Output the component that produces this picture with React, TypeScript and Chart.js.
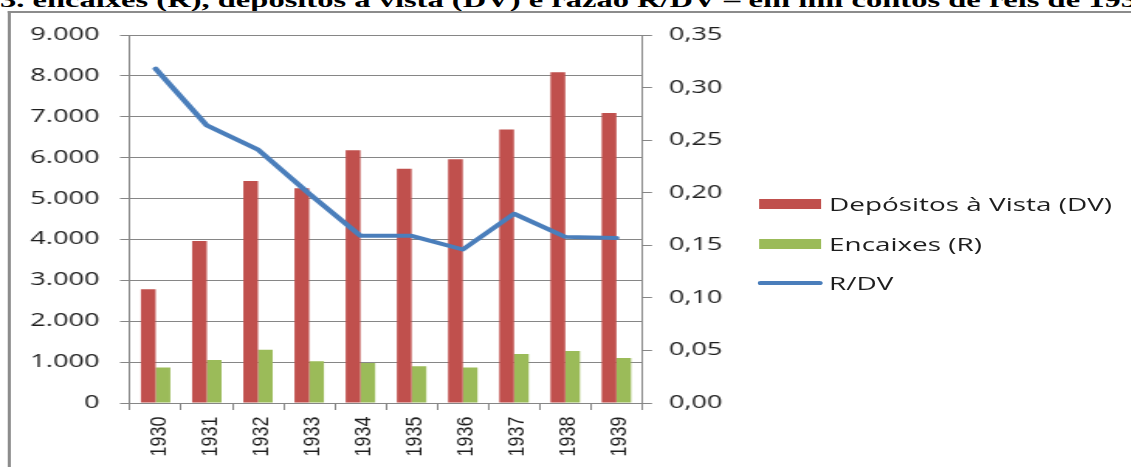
import { useEffect, useRef } from "react"
import { Chart, registerables } from "chart.js"

Chart.register(...registerables)

// the reference is a stretched screenshot: draw at 730px wide and scale it out to 1131px
const STRETCH = 1131 / 730

const years = ["1930", "1931", "1932", "1933", "1934", "1935", "1936", "1937", "1938", "1939"]
const depositos = [2780, 3960, 5430, 5250, 6180, 5730, 5960, 6690, 8090, 7090]
const encaixes = [870, 1050, 1300, 1020, 980, 900, 870, 1200, 1270, 1100]
const razao = [0.318, 0.264, 0.241, 0.199, 0.159, 0.159, 0.146, 0.18, 0.158, 0.157]

const leftTicks = [0, 1000, 2000, 3000, 4000, 5000, 6000, 7000, 8000, 9000]
const rightTicks = [0, 0.05, 0.1, 0.15, 0.2, 0.25, 0.3, 0.35]

const RED = "#C0504D"
const GREEN = "#9BBB59"
const BLUE = "#4A7EBB"
const GRID = "#868686"
const TEXT = "#1e1e1e"

const tickFont = { family: "'Open Sans', sans-serif", size: 17.5 }

const fmtThousands = (v: number) => String(v).replace(/\B(?=(\d{3})+(?!\d))/g, ".")

// x labels are not stretched in the reference, so undo the stretch when drawing them
const xLabelPlugin = {
  id: "xLabels",
  afterDraw(chart: any) {
    const { ctx, scales } = chart
    const x = scales.x
    ctx.save()
    ctx.fillStyle = TEXT
    ctx.font = "23px 'Liberation Sans', Arial, sans-serif"
    ctx.textAlign = "right"
    ctx.textBaseline = "alphabetic"
    years.forEach((year, i) => {
      ctx.save()
      ctx.translate(x.getPixelForTick(i), x.top + 13.5)
      ctx.scale(1 / STRETCH, 1)
      ctx.rotate(-Math.PI / 2)
      ctx.scale(0.78, 1)
      ctx.fillText(year, 0, 9.75)
      ctx.restore()
    })
    ctx.restore()
  },
}

const legendItems = [
  { label: "Depósitos à Vista (DV)", color: RED, line: false },
  { label: "Encaixes (R)", color: GREEN, line: false },
  { label: "R/DV", color: BLUE, line: true },
]

export default function App() {
  const chartRef = useRef<HTMLCanvasElement>(null)
  const chartInstance = useRef<Chart | null>(null)

  useEffect(() => {
    if (!chartRef.current) return
    if (chartInstance.current) chartInstance.current.destroy()

    chartInstance.current = new Chart(chartRef.current, {
      type: "bar",
      data: {
        labels: years,
        datasets: [
          {
            type: "line",
            label: "R/DV",
            data: razao,
            yAxisID: "y1",
            borderColor: BLUE,
            backgroundColor: BLUE,
            borderWidth: 4,
            pointRadius: 0,
            tension: 0,
            borderCapStyle: "round",
            borderJoinStyle: "round",
            order: 0,
          },
          {
            label: "Depósitos à Vista (DV)",
            data: depositos,
            backgroundColor: RED,
            yAxisID: "y",
            categoryPercentage: 0.575,
            barPercentage: 1,
            order: 1,
          },
          {
            label: "Encaixes (R)",
            data: encaixes,
            backgroundColor: GREEN,
            yAxisID: "y",
            categoryPercentage: 0.575,
            barPercentage: 1,
            order: 1,
          },
        ],
      } as any,
      options: {
        responsive: false,
        animation: false,
        layout: { padding: { left: 0, right: 255.63, top: 35, bottom: 0 } },
        plugins: {
          legend: { display: false },
          tooltip: { enabled: false },
        },
        scales: {
          x: {
            offset: true,
            grid: {
              offset: true,
              drawOnChartArea: false,
              drawTicks: true,
              tickLength: 7,
              color: GRID,
            },
            border: { display: true, color: GRID },
            ticks: { display: false },
            afterFit: (s: any) => {
              s.height = 64
            },
          },
          y: {
            position: "left",
            min: 0,
            max: 9000,
            afterBuildTicks: (s: any) => {
              s.ticks = leftTicks.map((v) => ({ value: v }))
            },
            ticks: {
              callback: (v: any) => fmtThousands(Number(v)),
              padding: 13.3,
              font: tickFont,
              color: TEXT,
            },
            grid: { color: GRID, tickLength: 6.45 },
            border: { color: GRID },
            afterFit: (s: any) => {
              s.width = 83.91
            },
          },
          y1: {
            position: "right",
            min: 0,
            max: 0.35,
            afterBuildTicks: (s: any) => {
              s.ticks = rightTicks.map((v) => ({ value: v }))
            },
            ticks: {
              callback: (v: any) => Number(v).toFixed(2).replace(".", ","),
              padding: 10.95,
              font: tickFont,
              color: TEXT,
            },
            grid: { drawOnChartArea: false, color: GRID, tickLength: 6.45 },
            border: { color: GRID },
            afterFit: (s: any) => {
              s.width = 60
            },
          },
        },
      },
      plugins: [xLabelPlugin],
    })

    return () => {
      if (chartInstance.current) {
        chartInstance.current.destroy()
        chartInstance.current = null
      }
    }
  }, [])

  return (
    <div
      style={{
        position: "absolute",
        left: 0,
        top: 0,
        width: 730,
        height: 467,
        overflow: "hidden",
        background: "#fff",
        transform: `scaleX(${STRETCH})`,
        transformOrigin: "0 0",
      }}
    >
      <div
        style={{
          position: "absolute",
          left: 0,
          top: -9.6,
          whiteSpace: "nowrap",
          fontFamily: "'Liberation Serif', 'Times New Roman', serif",
          fontWeight: "bold",
          fontSize: 21,
          lineHeight: "21px",
          color: "#000",
        }}
      >
        3. encaixes (R), depósitos à vista (DV) e razão R/DV – em mil contos de réis de 1930-1939
      </div>
      <div
        style={{
          position: "absolute",
          left: 5.2,
          top: 11,
          width: 800,
          height: 500,
          borderTop: "2px solid #8c8c8c",
          borderLeft: "2px solid #8c8c8c",
        }}
      />
      <canvas
        ref={chartRef}
        width={730}
        height={467}
        style={{ position: "absolute", left: 0, top: 0, width: 730, height: 467 }}
      ></canvas>
      <div style={{ position: "absolute", left: 489.3, top: 184.25 }}>
        {legendItems.map((item) => (
          <div key={item.label} style={{ display: "flex", alignItems: "center", height: 39.5 }}>
            <div style={{ width: 45.8, display: "flex", alignItems: "center" }}>
              {item.line ? (
                <div style={{ width: 41.3, height: 4, borderRadius: 2, background: item.color }} />
              ) : (
                <div style={{ marginLeft: 1.2, width: 39.4, height: 10, background: item.color }} />
              )}
            </div>
            <span
              style={{
                fontFamily: "'Open Sans', sans-serif",
                fontSize: 18,
                color: TEXT,
                whiteSpace: "nowrap",
              }}
            >
              {item.label}
            </span>
          </div>
        ))}
      </div>
    </div>
  )
}
